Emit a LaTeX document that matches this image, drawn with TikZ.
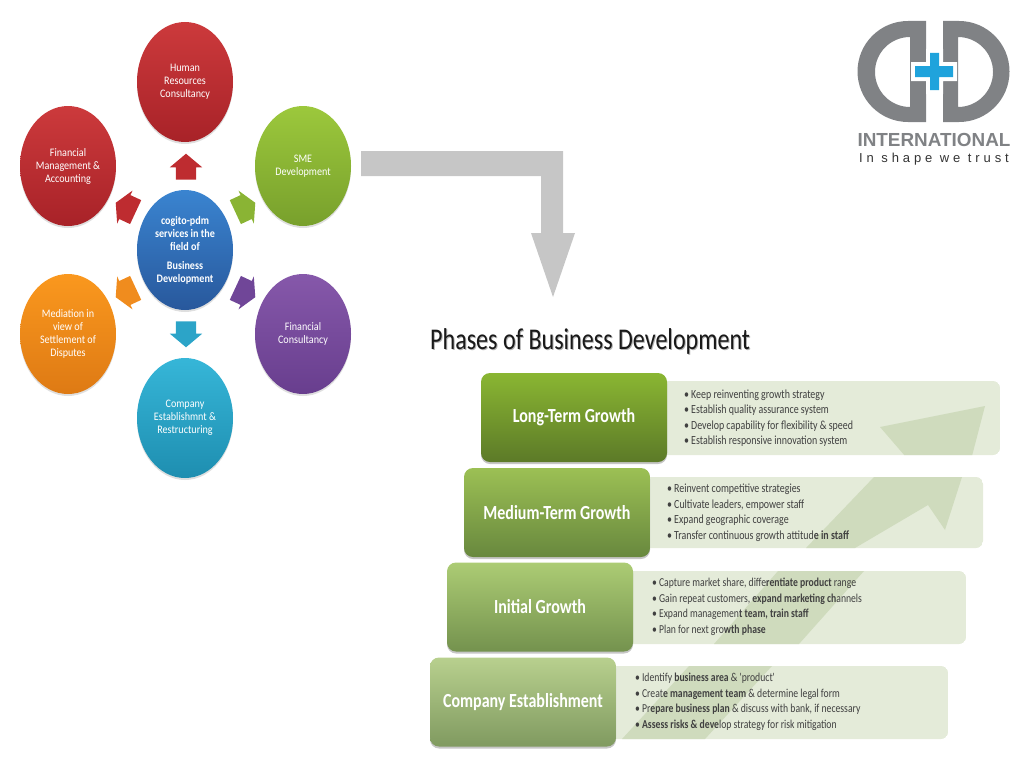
\documentclass[tikz,border=0pt]{standalone}
\usepackage{fontspec}
\usepackage{xcolor}
\usepackage{tikz}
\usetikzlibrary{shapes.geometric,shapes.arrows,shadows}
\setmainfont{Carlito}
\newfontfamily\narrowfont[FakeStretch=0.8]{Carlito}
\newfontfamily\servicefont[FakeStretch=0.88]{Carlito}
\newfontfamily\logofont{Liberation Sans}
\newfontfamily\tagfont[LetterSpace=30]{Liberation Sans}
\newcommand{\hl}[1]{\textbf{#1}}

\definecolor{logogray}{HTML}{808285}
\definecolor{logoblue}{HTML}{1FA3DC}
\definecolor{panelgreen}{HTML}{E4EBD9}
\definecolor{streakgreen}{HTML}{CFDBBD}

\tikzset{
    service/.style={ellipse, minimum width=96pt, minimum height=120pt, inner sep=0pt, align=center, text=white,
        font=\fontsize{11.5}{13}\selectfont\servicefont, drop shadow={opacity=0.25, shadow xshift=0pt, shadow yshift=-2pt}},
    blockarrow/.style={single arrow, minimum height=26pt, inner xsep=6pt, inner ysep=10pt, single arrow head extend=6pt, single arrow head indent=0pt, single arrow tip angle=100},
    sidearrow/.style={single arrow, minimum height=22pt, inner xsep=2pt, inner ysep=13pt, single arrow head extend=5pt, single arrow head indent=0pt, single arrow tip angle=122},
    phasebox/.style={rounded corners=9pt, minimum width=186pt, minimum height=89pt, inner sep=0pt, text=white,
        font=\fontsize{20}{22}\selectfont\narrowfont\bfseries, drop shadow={opacity=0.45, shadow xshift=0pt, shadow yshift=-2pt}},
    phasepanel/.style={fill=panelgreen, rounded corners=7pt},
    phasetext/.style={anchor=west, align=left, inner sep=0pt, text=black!75, font=\fontsize{12.4}{15.5}\selectfont\narrowfont},
    phasetextb/.style={phasetext, font=\fontsize{12.1}{15.5}\selectfont\narrowfont}
}

\begin{document}
\begin{tikzpicture}[x=1pt,y=-1pt]
    \useasboundingbox (0,0) rectangle (1024,768);

    % services
    \node[service, shade, top color={rgb,255:red,204;green,58;blue,60}, bottom color={rgb,255:red,168;green,34;blue,40}] (hr) at (185,82) {Human\\Resources\\Consultancy};
    \node[service, shade, top color={rgb,255:red,204;green,58;blue,60}, bottom color={rgb,255:red,168;green,34;blue,40}] (fma) at (68,166) {Financial\\Management \&\\Accounting};
    \node[service, shade, top color={rgb,255:red,156;green,200;blue,60}, bottom color={rgb,255:red,120;green,160;blue,44}] (sme) at (303,166) {SME\\Development};
    \node[service, shade, top color={rgb,255:red,58;green,132;blue,208}, bottom color={rgb,255:red,40;green,88;blue,156}, font=\fontsize{11.5}{13}\selectfont\servicefont\bfseries] (centre) at (185,250) {cogito-pdm\\services in the\\field of\\[6pt]Business\\Development};
    \node[service, shade, top color={rgb,255:red,250;green,152;blue,30}, bottom color={rgb,255:red,222;green,122;blue,20}] (med) at (68,334) {Mediation in\\view of\\Settlement of\\Disputes};
    \node[service, shade, top color={rgb,255:red,134;green,88;blue,170}, bottom color={rgb,255:red,104;green,62;blue,142}] (fc) at (303,334) {Financial\\Consultancy};
    \node[service, shade, top color={rgb,255:red,54;green,182;blue,216}, bottom color={rgb,255:red,30;green,142;blue,176}] (est) at (185,418) {Company\\Establishmnt \&\\Restructuring};

    % small arrows round the centre
    \node[blockarrow, rotate=90, fill={rgb,255:red,190;green,44;blue,48}] (upa) at (186,171) {};
    \node[sidearrow, rotate=155, fill={rgb,255:red,190;green,44;blue,48}] (fmaa) at (129,209) {};
    \node[sidearrow, rotate=25, fill={rgb,255:red,138;green,180;blue,52}] (smea) at (242,209) {};
    \node[sidearrow, rotate=205, fill={rgb,255:red,240;green,140;blue,30}] (meda) at (129,291) {};
    \node[sidearrow, rotate=335, fill={rgb,255:red,112;green,70;blue,152}] (fca) at (242,291) {};
    \node[blockarrow, rotate=270, fill={rgb,255:red,44;green,164;blue,200}] (esta) at (186,330) {};

    % big arrow
    \fill[gray!45] (361,151) -- (563,151) -- (563,233) -- (575,233) -- (553,297) -- (531,233) -- (541,233) -- (541,176) -- (361,176) -- cycle;

    % logo
    \fill[logogray, even odd rule] (926,21) -- (908,21) arc[start angle=90, end angle=270, radius=50.5pt] -- (926,122) -- cycle
        (910,37) arc[start angle=90, end angle=270, radius=35pt] -- cycle;
    \fill[logogray, even odd rule] (943,21) -- (959,21) arc[start angle=90, end angle=-90, radius=50.5pt] -- (943,122) -- cycle
        (958,37) arc[start angle=90, end angle=-90, radius=35pt] -- cycle;
    \fill[white] (926,49) -- (943,49) -- (943,62) -- (957,62) -- (957,81) -- (943,81) -- (943,94) -- (926,94) -- (926,81) -- (911,81) -- (911,62) -- (926,62) -- cycle;
    \fill[logoblue] (930,53) -- (939,53) -- (939,66) -- (953,66) -- (953,77) -- (939,77) -- (939,90) -- (930,90) -- (930,77) -- (915,77) -- (915,66) -- (930,66) -- cycle;
    \node[inner sep=0pt, text=logogray, font=\fontsize{18.9}{20}\selectfont\logofont\bfseries] (intl) at (934,139.5) {INTERNATIONAL};
    \node[inner sep=0pt, text=black!80, font=\fontsize{13}{15}\selectfont\tagfont] (trust) at (934,159) {In shape we trust};

    % title
    \node[inner sep=0pt, anchor=west, text=black!30, font=\fontsize{30.1}{32}\selectfont\narrowfont] (titleb) at (431,342) {Phases of Business Development};
    \node[inner sep=0pt, anchor=west, text=black!90, font=\fontsize{30.1}{32}\selectfont\narrowfont] (title) at (430,341) {Phases of Business Development};

    % panels, back to front
    \begin{scope}
        \clip[rounded corners=7pt] (600,381) rectangle (1000,455);
        \fill[phasepanel] (600,381) rectangle (1000,455);
        \fill[streakgreen] (880,427) -- (985,406) -- (972,456) -- (905,456) -- cycle;
    \end{scope}
    \begin{scope}
        \clip[rounded corners=7pt] (600,477) rectangle (983,548);
        \fill[phasepanel] (600,477) rectangle (983,548);
        \fill[streakgreen] (806,548) -- (874,477) -- (962,477) -- (945,530) -- (928,505) -- (855,548) -- cycle;
    \end{scope}
    \begin{scope}
        \clip[rounded corners=7pt] (600,571) rectangle (966,644);
        \fill[phasepanel] (600,571) rectangle (966,644);
        \fill[streakgreen] (778,571) -- (864,571) -- (799,644) -- (714,644) -- cycle;
    \end{scope}
    \begin{scope}
        \clip[rounded corners=7pt] (600,666) rectangle (948,739);
        \fill[phasepanel] (600,666) rectangle (948,739);
        \fill[streakgreen] (689,666) -- (772,666) -- (705,739) -- (622,739) -- cycle;
    \end{scope}

    % phases
    \node[phasebox, shade, top color={rgb,255:red,138;green,182;blue,50}, bottom color={rgb,255:red,92;green,122;blue,40}] (long) at (574,417.5) {Long-Term Growth};
    \node[phasebox, shade, top color={rgb,255:red,156;green,192;blue,84}, bottom color={rgb,255:red,104;green,136;blue,62}] (medium) at (557,512.5) {Medium-Term Growth};
    \node[phasebox, shade, top color={rgb,255:red,172;green,204;blue,116}, bottom color={rgb,255:red,116;green,146;blue,78}] (initial) at (540,607) {Initial Growth};
    \node[phasebox, shade, top color={rgb,255:red,184;green,208;blue,142}, bottom color={rgb,255:red,128;green,154;blue,96}] (company) at (523,702) {Company Establishment};

    \node[phasetext] (longt) at (684,418) {\textbullet\,Keep reinventing growth strategy\\\textbullet\,Establish quality assurance system\\\textbullet\,Develop capability for flexibility \& speed\\\textbullet\,Establish responsive innovation system};
    \node[phasetext] (mediumt) at (667,513) {\textbullet\,Reinvent competitive strategies\\\textbullet\,Cultivate leaders, empower staff\\\textbullet\,Expand geographic coverage\\\textbullet\,Transfer continuous growth attitud\hl{e in staff}};
    \node[phasetextb] (initialt) at (652,607) {\textbullet\,Capture market share, diffe\hl{rentiate product} range\\\textbullet\,Gain repeat customers, \hl{expand marketing ch}annels\\\textbullet\,Expand managemen\hl{t team, train staff}\\\textbullet\,Plan for next gro\hl{wth phase}};
    \node[phasetextb] (companyt) at (635,702) {\textbullet\,Identify \hl{business area} \& 'product'\\\textbullet\,Creat\hl{e management team} \& determine legal form\\\textbullet\,Pr\hl{epare business plan} \& discuss with bank, if necessary\\\textbullet\,\hl{Assess risks \& deve}lop strategy for risk mitigation};
\end{tikzpicture}
\end{document}
